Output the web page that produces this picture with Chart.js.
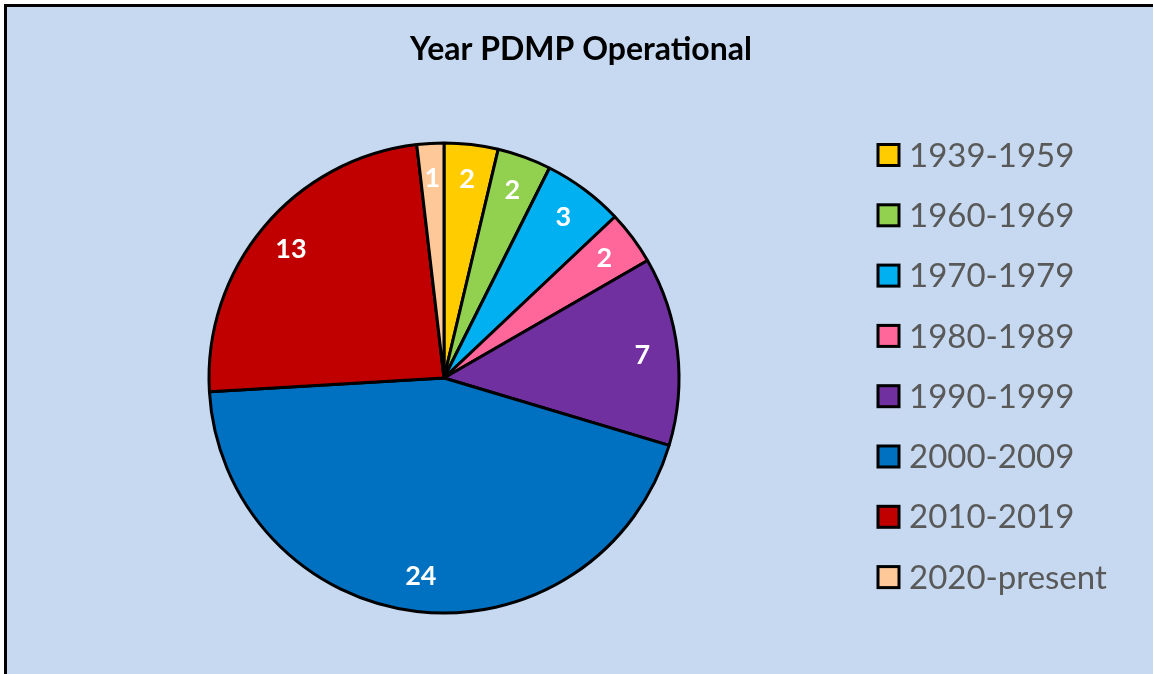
<!DOCTYPE html>
<html>
<head>
<meta charset="utf-8">
<script src="https://cdn.jsdelivr.net/npm/chart.js@4"></script>
<style>
  html, body { margin: 0; padding: 0; background: #fff; }
  #wrap { width: 1153px; height: 674px; }
</style>
</head>
<body>
<div id="wrap"><canvas id="pdmpChart" width="1153" height="674"></canvas></div>
<script>
const chartTitle = 'Year PDMP Operational';
const periods = ['1939-1959', '1960-1969', '1970-1979', '1980-1989', '1990-1999', '2000-2009', '2010-2019', '2020-present'];
const stateCounts = [2, 2, 3, 2, 7, 24, 13, 1];
const sliceColors = ['#FFCC00', '#92D050', '#00B0F0', '#FF6699', '#7030A0', '#0070C0', '#C00000', '#FFC898'];

// frame, title, slice labels and legend
const decor = {
  id: 'decor',
  beforeDraw(chart) {
    const c = chart.ctx;
    c.save();
    c.fillStyle = '#ffffff';
    c.fillRect(0, 0, chart.width, chart.height);
    c.fillStyle = '#C6D9F0';
    c.fillRect(6, 6, chart.width, chart.height);
    c.strokeStyle = '#000';
    c.lineWidth = 3;
    c.strokeRect(5.5, 5.5, chart.width + 10, chart.height + 10);
    c.restore();
  },
  afterDraw(chart) {
    const c = chart.ctx;
    const meta = chart.getDatasetMeta(0);
    c.save();
    // title
    c.fillStyle = '#000';
    c.font = 'bold 32px Lato';
    c.textAlign = 'center';
    c.textBaseline = 'middle';
    c.fillText(chartTitle, 581, 50);

    // values on slices
    c.fillStyle = '#fff';
    c.font = 'bold 27px Lato';
    meta.data.forEach((arc, i) => {
      const mid = (arc.startAngle + arc.endAngle) / 2;
      const r = arc.outerRadius * 0.85;
      c.fillText(String(stateCounts[i]), arc.x + Math.cos(mid) * r, arc.y + Math.sin(mid) * r);
    });

    // legend
    c.textAlign = 'left';
    c.font = '33px Lato';
    periods.forEach((p, i) => {
      const y = 155 + i * 60.3;
      c.fillStyle = sliceColors[i];
      c.fillRect(878, y - 10.5, 21, 21);
      c.strokeStyle = '#000';
      c.lineWidth = 3;
      c.strokeRect(878, y - 10.5, 21, 21);
      c.fillStyle = '#595959';
      c.fillText(p, 909, y + 1);
    });
    c.restore();
  }
};

new Chart(document.getElementById('pdmpChart'), {
  type: 'pie',
  data: {
    labels: periods,
    datasets: [{
      data: stateCounts,
      backgroundColor: sliceColors,
      borderColor: '#000',
      borderWidth: 3,
      radius: 235
    }]
  },
  options: {
    responsive: false,
    animation: false,
    layout: {
      padding: { left: 209, right: 474, top: 143, bottom: 61 }
    },
    plugins: {
      legend: { display: false },
      title: { display: false },
      tooltip: { enabled: false }
    }
  },
  plugins: [decor]
});
</script>
</body>
</html>
